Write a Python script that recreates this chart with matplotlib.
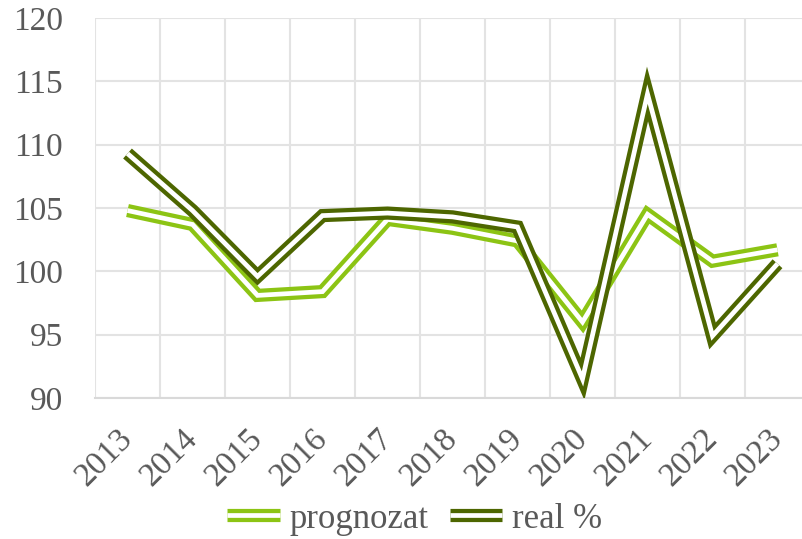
import matplotlib
matplotlib.use("Agg")
import matplotlib.pyplot as plt
from matplotlib.lines import Line2D
from matplotlib.legend_handler import HandlerTuple
from matplotlib.ticker import MultipleLocator, FixedLocator

years = ["2013", "2014", "2015", "2016", "2017", "2018",
         "2019", "2020", "2021", "2022", "2023"]
prognozat = [104.8, 103.7, 98.1, 98.4, 104.1, 103.4, 102.4, 96.0, 104.5, 100.8, 101.7]
real = [109.3, 104.8, 99.6, 104.4, 104.6, 104.3, 103.5, 91.5, 114.0, 94.9, 100.6]

light = "#8cc414"
dark = "#4d6600"
grid_c = "#e3e3e3"
text_c = "#595959"
LW = 9.5
GAP = 3.4

plt.rcParams["font.family"] = ["Liberation Serif", "DejaVu Serif"]

fig = plt.figure(figsize=(8.02, 5.39), dpi=100)
ax = fig.add_axes([95 / 802, 1 - 398 / 539, 715 / 802, 380 / 539])

x = list(range(len(years)))

def double_line(vals, color):
    ax.plot(x, vals, color=color, lw=LW, solid_joinstyle="miter",
            solid_capstyle="butt", zorder=3)
    ax.plot(x, vals, color="white", lw=GAP, solid_joinstyle="miter",
            solid_capstyle="butt", zorder=3)

double_line(prognozat, light)
double_line(real, dark)

ax.set_xlim(-0.5, len(years) - 0.5)
ax.set_ylim(90, 120)
ax.yaxis.set_major_locator(MultipleLocator(5))
ax.set_xticks(x)
ax.set_xticklabels(years, rotation=45, ha="right", va="center",
                   rotation_mode="anchor")
ax.xaxis.set_minor_locator(FixedLocator([i - 0.5 for i in range(len(years) + 1)]))
ax.grid(axis="y", which="major", color=grid_c, lw=1.5)
ax.grid(axis="x", which="minor", color=grid_c, lw=1.5)
ax.set_axisbelow(True)
for s in ["top", "right", "left"]:
    ax.spines[s].set_visible(False)
ax.spines["bottom"].set_color("#d9d9d9")
ax.spines["bottom"].set_linewidth(1.5)
ax.tick_params(axis="both", which="both", length=0, labelsize=24, colors=text_c)
ax.tick_params(axis="x", pad=26)
ax.tick_params(axis="y", pad=23)

def handle(color):
    return (Line2D([], [], color=color, lw=LW, solid_capstyle="butt"),
            Line2D([], [], color="white", lw=GAP, solid_capstyle="butt"))

leg = fig.legend([handle(light), handle(dark)], ["prognozat", "real %"],
                 handler_map={tuple: HandlerTuple(ndivide=1)},
                 loc="center", bbox_to_anchor=(415 / 802, 1 - 519 / 539),
                 ncol=2, frameon=False, fontsize=25, handlelength=1.5,
                 handletextpad=0.3, columnspacing=0.6)
for t in leg.get_texts():
    t.set_color(text_c)

fig.savefig("out.png", dpi=100)
